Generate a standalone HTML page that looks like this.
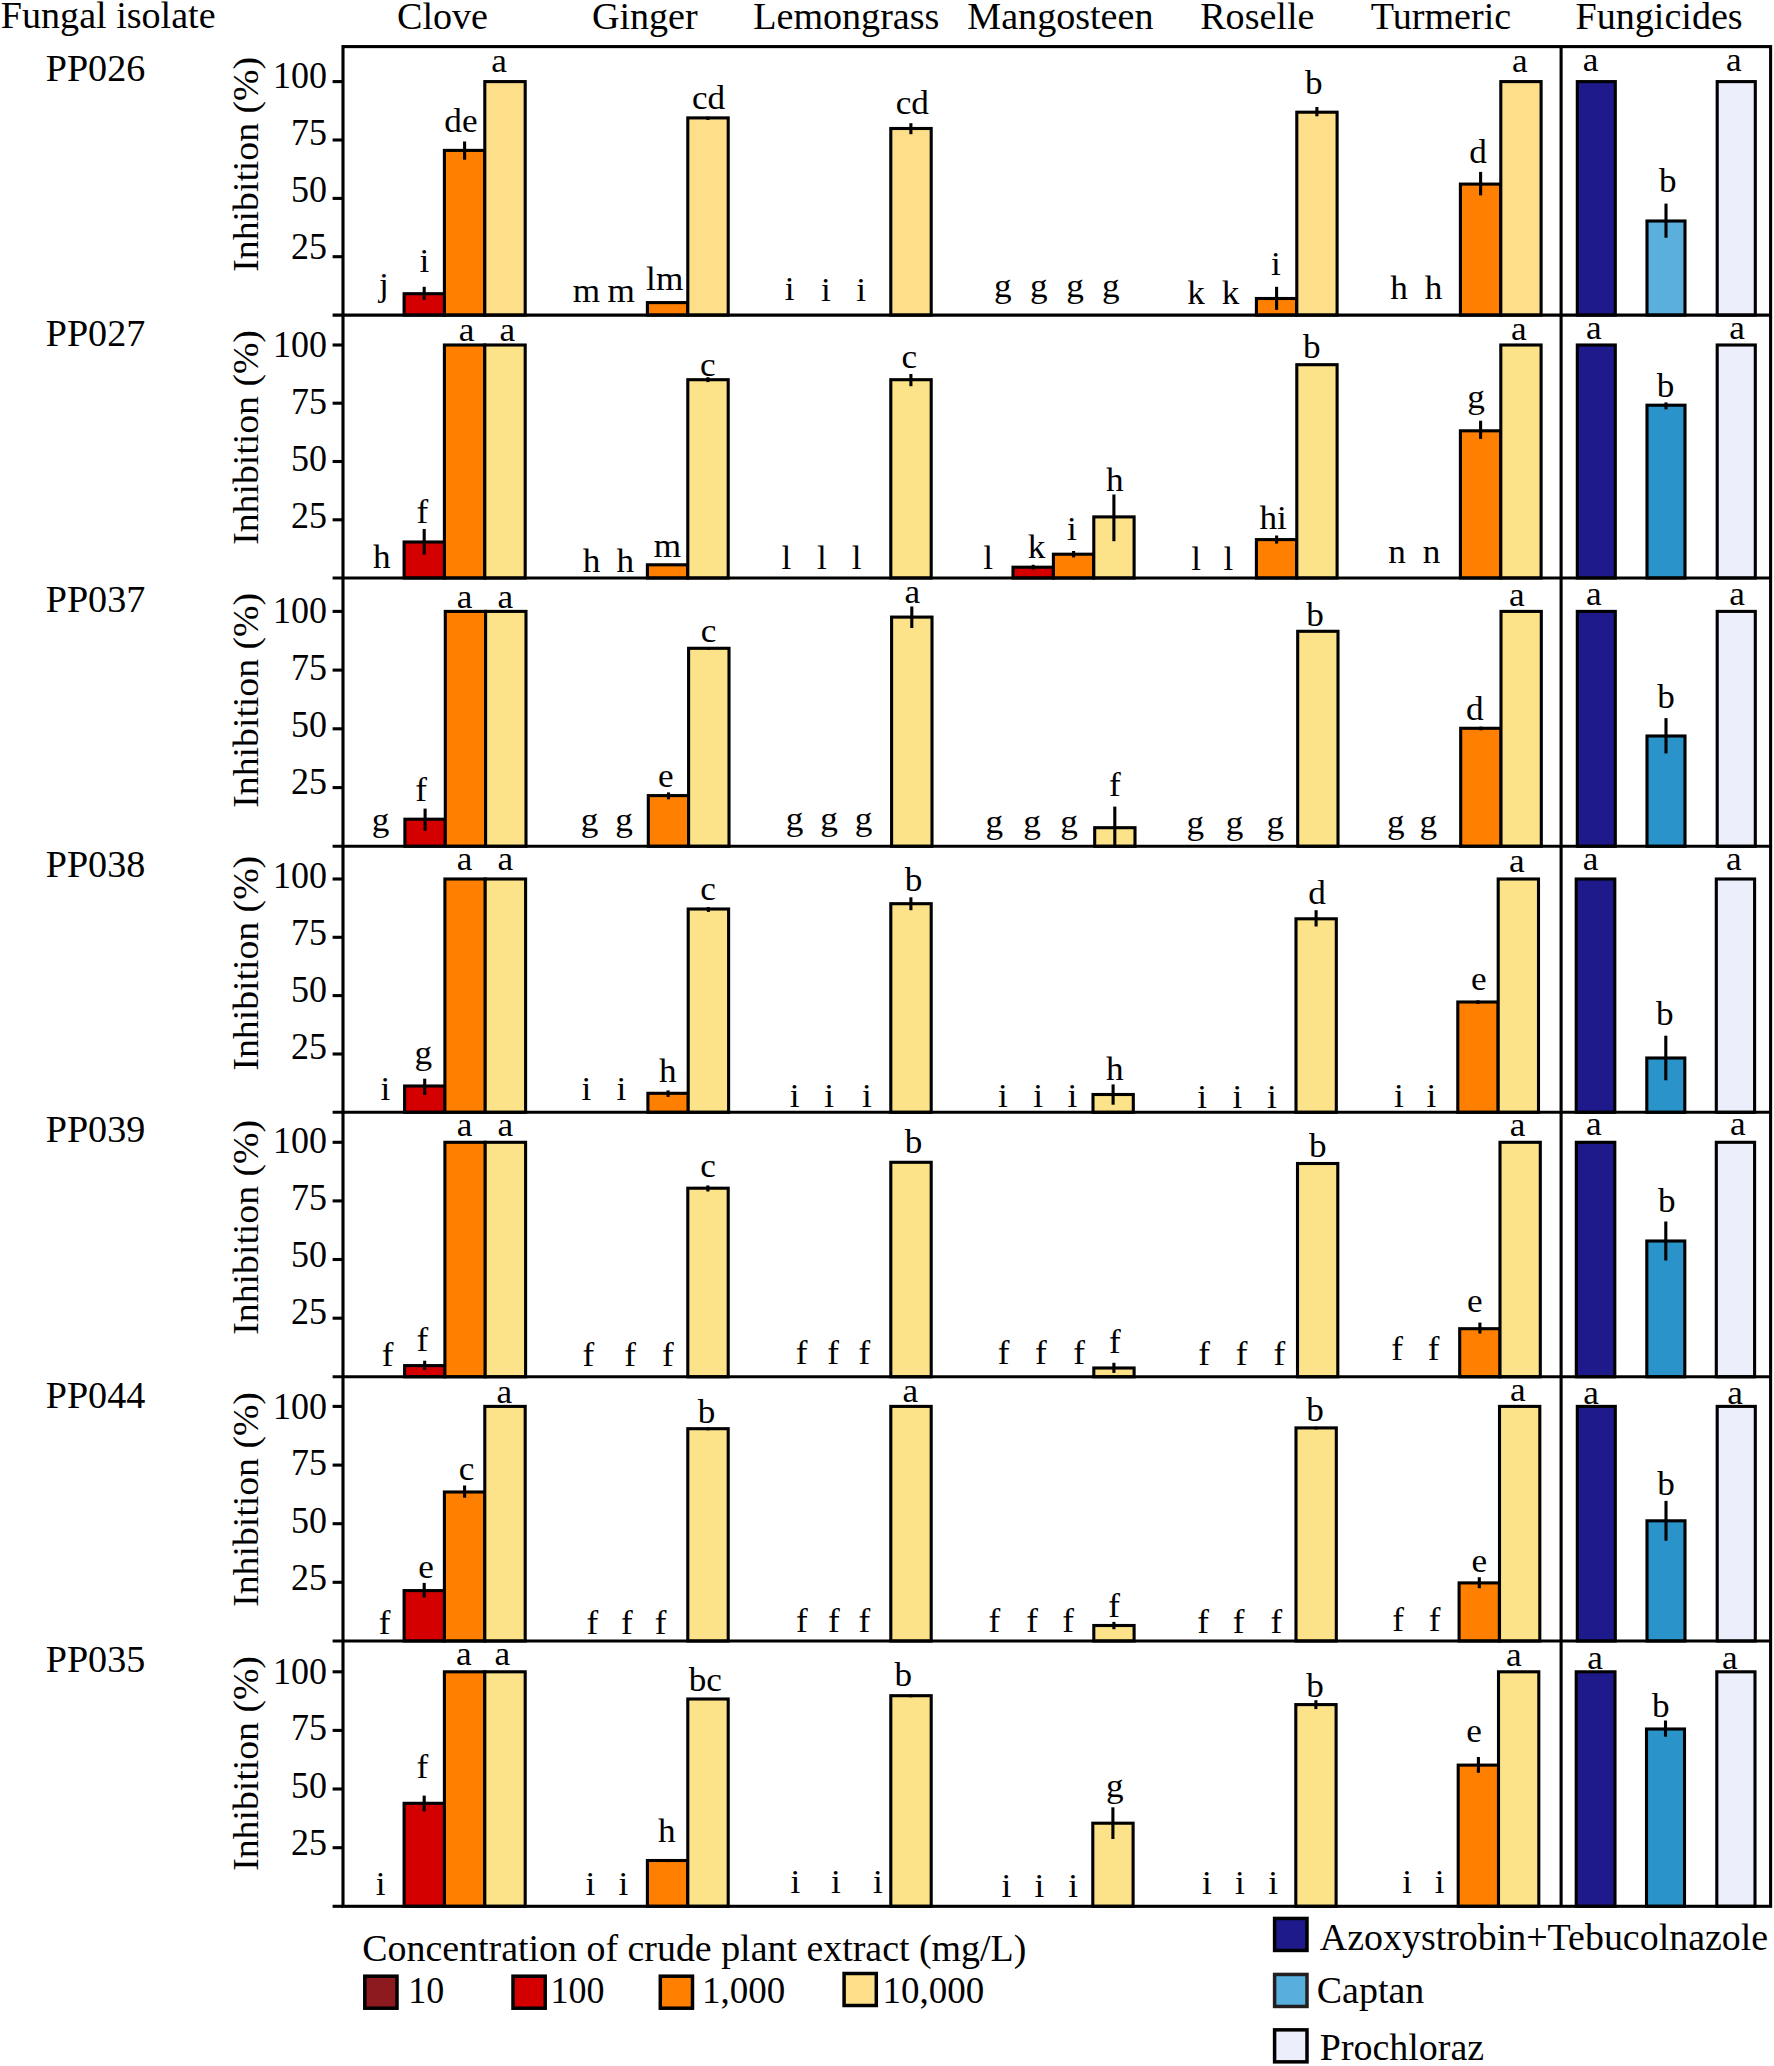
<!DOCTYPE html>
<html lang="en"><head><meta charset="utf-8"><title>Inhibition of fungal isolates by crude plant extracts</title>
<style>html,body{margin:0;padding:0;background:#fff}svg{display:block}text{font-family:"Liberation Serif", "DejaVu Serif", serif;fill:#000}.b{font-size:37.6px}.l{font-size:33.7px;text-anchor:middle}.bar{stroke:#000;stroke-width:3.1;stroke-linejoin:miter}.ln{stroke:#000;stroke-width:3.1;fill:none}</style></head><body>
<svg width="1774" height="2066" viewBox="0 0 1774 2066">
<rect width="1774" height="2066" fill="#fff"/>
<text class="b" transform="translate(108.2 27.8) scale(1.013 1)" text-anchor="middle">Fungal isolate</text>
<text class="b" transform="translate(442.5 28.6) scale(1.013 1)" text-anchor="middle">Clove</text>
<text class="b" transform="translate(644.8 28.6) scale(1.013 1)" text-anchor="middle">Ginger</text>
<text class="b" transform="translate(846.3 28.6) scale(1.013 1)" text-anchor="middle">Lemongrass</text>
<text class="b" transform="translate(1060.4 28.6) scale(1.013 1)" text-anchor="middle">Mangosteen</text>
<text class="b" transform="translate(1257.3 28.6) scale(1.013 1)" text-anchor="middle">Roselle</text>
<text class="b" transform="translate(1441.0 28.6) scale(1.013 1)" text-anchor="middle">Turmeric</text>
<text class="b" transform="translate(1659.1 28.6) scale(1.013 1)" text-anchor="middle">Fungicides</text>
<g>
<text class="b" transform="translate(95.5 80.7) scale(1.013 1)" text-anchor="middle">PP026</text>
<text class="b" style="font-size:36.0px" transform="translate(258.4 271.7) rotate(-90) scale(1.048 1)">Inhibition (%)</text>
<text class="b" transform="translate(327.0 88.1) scale(0.957 1)" text-anchor="end">100</text>
<line class="ln" x1="332.6" y1="81.6" x2="343.0" y2="81.6"/>
<text class="b" transform="translate(327.0 145.0) scale(0.957 1)" text-anchor="end">75</text>
<line class="ln" x1="332.6" y1="140.0" x2="343.0" y2="140.0"/>
<text class="b" transform="translate(327.0 202.0) scale(0.957 1)" text-anchor="end">50</text>
<line class="ln" x1="332.6" y1="198.4" x2="343.0" y2="198.4"/>
<text class="b" transform="translate(327.0 258.9) scale(0.957 1)" text-anchor="end">25</text>
<line class="ln" x1="332.6" y1="256.7" x2="343.0" y2="256.7"/>
<rect class="bar" x="404.1" y="293.7" width="40.4" height="21.4" fill="#d40000"/>
<rect class="bar" x="444.4" y="150.4" width="40.4" height="164.7" fill="#ff8000"/>
<rect class="bar" x="484.8" y="81.6" width="40.4" height="233.5" fill="#fddf89"/>
<rect class="bar" x="647.4" y="302.6" width="40.4" height="12.5" fill="#ff8000"/>
<rect class="bar" x="687.8" y="117.9" width="40.4" height="197.2" fill="#fddf89"/>
<rect class="bar" x="890.8" y="128.5" width="40.4" height="186.6" fill="#fddf89"/>
<rect class="bar" x="1256.4" y="298.5" width="40.3" height="16.6" fill="#ff8000"/>
<rect class="bar" x="1296.8" y="112.2" width="40.3" height="202.9" fill="#fddf89"/>
<rect class="bar" x="1460.4" y="184.1" width="40.3" height="131.0" fill="#ff8000"/>
<rect class="bar" x="1500.8" y="81.6" width="40.3" height="233.5" fill="#fddf89"/>
<rect class="bar" x="1577.3" y="81.6" width="38.0" height="233.5" fill="#1f1a8c"/>
<rect class="bar" x="1647.0" y="221.0" width="38.0" height="94.1" fill="#5aafdd"/>
<rect class="bar" x="1717.2" y="81.6" width="38.1" height="233.5" fill="#eceefb"/>
<line class="ln" x1="424.2" y1="286.8" x2="424.2" y2="299.8"/>
<line class="ln" x1="464.6" y1="141.5" x2="464.6" y2="159.7"/>
<line class="ln" x1="707.9" y1="116.7" x2="707.9" y2="120.0"/>
<line class="ln" x1="910.9" y1="123.2" x2="910.9" y2="134.2"/>
<line class="ln" x1="1276.6" y1="286.8" x2="1276.6" y2="309.9"/>
<line class="ln" x1="1316.9" y1="107.0" x2="1316.9" y2="116.3"/>
<line class="ln" x1="1480.6" y1="171.9" x2="1480.6" y2="195.4"/>
<line class="ln" x1="1666.0" y1="203.6" x2="1666.0" y2="237.7"/>
<text class="l" transform="translate(383.8 295.7) scale(1.045 1)">j</text>
<text class="l" transform="translate(424.4 272.2) scale(1.045 1)">i</text>
<text class="l" transform="translate(460.9 132.1) scale(1.045 1)">de</text>
<text class="l" transform="translate(499.1 71.7) scale(1.045 1)">a</text>
<text class="l" transform="translate(586.4 301.7) scale(1.045 1)">m</text>
<text class="l" transform="translate(621.3 301.7) scale(1.045 1)">m</text>
<text class="l" transform="translate(664.7 289.8) scale(1.045 1)">lm</text>
<text class="l" transform="translate(708.5 108.9) scale(1.045 1)">cd</text>
<text class="l" transform="translate(789.7 300.3) scale(1.045 1)">i</text>
<text class="l" transform="translate(825.8 300.9) scale(1.045 1)">i</text>
<text class="l" transform="translate(861.1 300.9) scale(1.045 1)">i</text>
<text class="l" transform="translate(912.3 114.2) scale(1.045 1)">cd</text>
<text class="l" transform="translate(1002.8 296.8) scale(1.045 1)">g</text>
<text class="l" transform="translate(1038.9 296.8) scale(1.045 1)">g</text>
<text class="l" transform="translate(1075.1 296.8) scale(1.045 1)">g</text>
<text class="l" transform="translate(1110.8 296.8) scale(1.045 1)">g</text>
<text class="l" transform="translate(1196.1 303.5) scale(1.045 1)">k</text>
<text class="l" transform="translate(1230.6 303.5) scale(1.045 1)">k</text>
<text class="l" transform="translate(1276.0 274.5) scale(1.045 1)">i</text>
<text class="l" transform="translate(1313.8 93.6) scale(1.045 1)">b</text>
<text class="l" transform="translate(1399.0 299.4) scale(1.045 1)">h</text>
<text class="l" transform="translate(1433.5 299.4) scale(1.045 1)">h</text>
<text class="l" transform="translate(1478.1 163.2) scale(1.045 1)">d</text>
<text class="l" transform="translate(1519.9 72.2) scale(1.045 1)">a</text>
<text class="l" transform="translate(1590.6 70.9) scale(1.045 1)">a</text>
<text class="l" transform="translate(1667.7 192.4) scale(1.045 1)">b</text>
<text class="l" transform="translate(1733.8 70.9) scale(1.045 1)">a</text>
</g>
<g>
<text class="b" transform="translate(95.5 345.8) scale(1.013 1)" text-anchor="middle">PP027</text>
<text class="b" style="font-size:36.0px" transform="translate(258.4 544.8) rotate(-90) scale(1.048 1)">Inhibition (%)</text>
<text class="b" transform="translate(327.0 357.2) scale(0.957 1)" text-anchor="end">100</text>
<line class="ln" x1="332.6" y1="345.0" x2="343.0" y2="345.0"/>
<text class="b" transform="translate(327.0 414.1) scale(0.957 1)" text-anchor="end">75</text>
<line class="ln" x1="332.6" y1="403.2" x2="343.0" y2="403.2"/>
<text class="b" transform="translate(327.0 471.0) scale(0.957 1)" text-anchor="end">50</text>
<line class="ln" x1="332.6" y1="461.5" x2="343.0" y2="461.5"/>
<text class="b" transform="translate(327.0 527.9) scale(0.957 1)" text-anchor="end">25</text>
<line class="ln" x1="332.6" y1="519.8" x2="343.0" y2="519.8"/>
<rect class="bar" x="404.1" y="542.0" width="40.4" height="36.0" fill="#d40000"/>
<rect class="bar" x="444.4" y="345.0" width="40.4" height="233.0" fill="#ff8000"/>
<rect class="bar" x="484.8" y="345.0" width="40.4" height="233.0" fill="#fce389"/>
<rect class="bar" x="647.4" y="564.8" width="40.4" height="13.2" fill="#ff8000"/>
<rect class="bar" x="687.8" y="379.7" width="40.4" height="198.3" fill="#fce389"/>
<rect class="bar" x="890.8" y="379.7" width="40.4" height="198.3" fill="#fce389"/>
<rect class="bar" x="1013.0" y="567.2" width="40.4" height="10.8" fill="#d40000"/>
<rect class="bar" x="1053.4" y="554.2" width="40.3" height="23.8" fill="#ff8000"/>
<rect class="bar" x="1093.8" y="516.9" width="40.3" height="61.1" fill="#fce389"/>
<rect class="bar" x="1256.4" y="539.6" width="40.3" height="38.4" fill="#ff8000"/>
<rect class="bar" x="1296.8" y="364.7" width="40.3" height="213.3" fill="#fce389"/>
<rect class="bar" x="1460.4" y="430.8" width="40.3" height="147.2" fill="#ff8000"/>
<rect class="bar" x="1500.8" y="345.0" width="40.3" height="233.0" fill="#fce389"/>
<rect class="bar" x="1577.3" y="345.0" width="38.0" height="233.0" fill="#1f1a8c"/>
<rect class="bar" x="1647.0" y="405.2" width="38.0" height="172.8" fill="#2a93c9"/>
<rect class="bar" x="1717.2" y="345.0" width="38.1" height="233.0" fill="#eceefb"/>
<line class="ln" x1="424.2" y1="529.0" x2="424.2" y2="554.6"/>
<line class="ln" x1="707.9" y1="377.2" x2="707.9" y2="382.1"/>
<line class="ln" x1="910.9" y1="374.0" x2="910.9" y2="386.2"/>
<line class="ln" x1="1033.2" y1="564.8" x2="1033.2" y2="569.6"/>
<line class="ln" x1="1073.6" y1="551.0" x2="1073.6" y2="557.4"/>
<line class="ln" x1="1113.9" y1="494.5" x2="1113.9" y2="541.2"/>
<line class="ln" x1="1276.6" y1="535.5" x2="1276.6" y2="543.6"/>
<line class="ln" x1="1480.6" y1="420.7" x2="1480.6" y2="438.9"/>
<line class="ln" x1="1666.0" y1="402.4" x2="1666.0" y2="409.3"/>
<text class="l" transform="translate(381.8 568.2) scale(1.045 1)">h</text>
<text class="l" transform="translate(422.4 523.2) scale(1.045 1)">f</text>
<text class="l" transform="translate(466.6 341.0) scale(1.045 1)">a</text>
<text class="l" transform="translate(507.2 341.0) scale(1.045 1)">a</text>
<text class="l" transform="translate(591.6 572.2) scale(1.045 1)">h</text>
<text class="l" transform="translate(625.3 572.2) scale(1.045 1)">h</text>
<text class="l" transform="translate(667.5 557.4) scale(1.045 1)">m</text>
<text class="l" transform="translate(707.7 375.9) scale(1.045 1)">c</text>
<text class="l" transform="translate(786.4 568.5) scale(1.045 1)">l</text>
<text class="l" transform="translate(821.8 568.8) scale(1.045 1)">l</text>
<text class="l" transform="translate(856.7 568.8) scale(1.045 1)">l</text>
<text class="l" transform="translate(909.4 368.1) scale(1.045 1)">c</text>
<text class="l" transform="translate(988.2 568.8) scale(1.045 1)">l</text>
<text class="l" transform="translate(1036.5 557.9) scale(1.045 1)">k</text>
<text class="l" transform="translate(1071.9 539.6) scale(1.045 1)">i</text>
<text class="l" transform="translate(1114.9 490.5) scale(1.045 1)">h</text>
<text class="l" transform="translate(1196.1 570.4) scale(1.045 1)">l</text>
<text class="l" transform="translate(1228.5 570.4) scale(1.045 1)">l</text>
<text class="l" transform="translate(1273.2 528.7) scale(1.045 1)">hi</text>
<text class="l" transform="translate(1311.7 358.3) scale(1.045 1)">b</text>
<text class="l" transform="translate(1397.0 563.0) scale(1.045 1)">n</text>
<text class="l" transform="translate(1431.5 563.0) scale(1.045 1)">n</text>
<text class="l" transform="translate(1476.1 407.9) scale(1.045 1)">g</text>
<text class="l" transform="translate(1518.7 339.5) scale(1.045 1)">a</text>
<text class="l" transform="translate(1593.8 338.7) scale(1.045 1)">a</text>
<text class="l" transform="translate(1665.6 396.5) scale(1.045 1)">b</text>
<text class="l" transform="translate(1737.1 338.7) scale(1.045 1)">a</text>
</g>
<g>
<text class="b" transform="translate(95.5 612.3) scale(1.013 1)" text-anchor="middle">PP037</text>
<text class="b" style="font-size:36.0px" transform="translate(258.4 807.7) rotate(-90) scale(1.048 1)">Inhibition (%)</text>
<text class="b" transform="translate(327.0 622.8) scale(0.957 1)" text-anchor="end">100</text>
<line class="ln" x1="332.6" y1="611.4" x2="343.0" y2="611.4"/>
<text class="b" transform="translate(327.0 679.7) scale(0.957 1)" text-anchor="end">75</text>
<line class="ln" x1="332.6" y1="670.1" x2="343.0" y2="670.1"/>
<text class="b" transform="translate(327.0 736.7) scale(0.957 1)" text-anchor="end">50</text>
<line class="ln" x1="332.6" y1="728.8" x2="343.0" y2="728.8"/>
<text class="b" transform="translate(327.0 793.6) scale(0.957 1)" text-anchor="end">25</text>
<line class="ln" x1="332.6" y1="787.6" x2="343.0" y2="787.6"/>
<rect class="bar" x="404.9" y="819.2" width="40.4" height="27.1" fill="#d40000"/>
<rect class="bar" x="445.3" y="611.4" width="40.4" height="234.9" fill="#ff8000"/>
<rect class="bar" x="485.6" y="611.4" width="40.4" height="234.9" fill="#fce389"/>
<rect class="bar" x="648.3" y="795.6" width="40.4" height="50.7" fill="#ff8000"/>
<rect class="bar" x="688.6" y="648.3" width="40.4" height="198.0" fill="#fce389"/>
<rect class="bar" x="891.6" y="617.1" width="40.4" height="229.2" fill="#fce389"/>
<rect class="bar" x="1094.7" y="827.7" width="40.3" height="18.6" fill="#fce389"/>
<rect class="bar" x="1297.7" y="631.3" width="40.3" height="215.0" fill="#fce389"/>
<rect class="bar" x="1460.7" y="728.3" width="40.3" height="118.0" fill="#ff8000"/>
<rect class="bar" x="1501.0" y="611.4" width="40.3" height="234.9" fill="#fce389"/>
<rect class="bar" x="1577.3" y="611.4" width="38.0" height="234.9" fill="#1f1a8c"/>
<rect class="bar" x="1647.0" y="736.0" width="38.0" height="110.3" fill="#2a93c9"/>
<rect class="bar" x="1717.2" y="611.4" width="38.1" height="234.9" fill="#eceefb"/>
<line class="ln" x1="425.1" y1="808.6" x2="425.1" y2="830.9"/>
<line class="ln" x1="668.5" y1="792.4" x2="668.5" y2="799.3"/>
<line class="ln" x1="708.8" y1="647.1" x2="708.8" y2="649.9"/>
<line class="ln" x1="911.8" y1="606.5" x2="911.8" y2="628.0"/>
<line class="ln" x1="1114.8" y1="806.6" x2="1114.8" y2="846.0"/>
<line class="ln" x1="1480.9" y1="726.6" x2="1480.9" y2="730.3"/>
<line class="ln" x1="1666.0" y1="718.1" x2="1666.0" y2="753.4"/>
<text class="l" transform="translate(380.6 831.3) scale(1.045 1)">g</text>
<text class="l" transform="translate(421.2 801.2) scale(1.045 1)">f</text>
<text class="l" transform="translate(464.6 607.7) scale(1.045 1)">a</text>
<text class="l" transform="translate(505.2 607.7) scale(1.045 1)">a</text>
<text class="l" transform="translate(589.6 831.3) scale(1.045 1)">g</text>
<text class="l" transform="translate(624.1 831.3) scale(1.045 1)">g</text>
<text class="l" transform="translate(665.9 786.7) scale(1.045 1)">e</text>
<text class="l" transform="translate(708.5 641.6) scale(1.045 1)">c</text>
<text class="l" transform="translate(794.6 830.2) scale(1.045 1)">g</text>
<text class="l" transform="translate(829.1 829.7) scale(1.045 1)">g</text>
<text class="l" transform="translate(863.6 829.7) scale(1.045 1)">g</text>
<text class="l" transform="translate(912.3 603.2) scale(1.045 1)">a</text>
<text class="l" transform="translate(994.3 832.6) scale(1.045 1)">g</text>
<text class="l" transform="translate(1032.0 832.6) scale(1.045 1)">g</text>
<text class="l" transform="translate(1069.0 832.6) scale(1.045 1)">g</text>
<text class="l" transform="translate(1114.9 795.5) scale(1.045 1)">f</text>
<text class="l" transform="translate(1195.2 833.8) scale(1.045 1)">g</text>
<text class="l" transform="translate(1234.6 833.8) scale(1.045 1)">g</text>
<text class="l" transform="translate(1275.2 833.8) scale(1.045 1)">g</text>
<text class="l" transform="translate(1315.0 625.6) scale(1.045 1)">b</text>
<text class="l" transform="translate(1395.7 833.2) scale(1.045 1)">g</text>
<text class="l" transform="translate(1428.2 833.2) scale(1.045 1)">g</text>
<text class="l" transform="translate(1474.9 719.5) scale(1.045 1)">d</text>
<text class="l" transform="translate(1516.7 605.6) scale(1.045 1)">a</text>
<text class="l" transform="translate(1593.8 605.0) scale(1.045 1)">a</text>
<text class="l" transform="translate(1666.0 707.5) scale(1.045 1)">b</text>
<text class="l" transform="translate(1737.1 605.0) scale(1.045 1)">a</text>
</g>
<g>
<text class="b" transform="translate(95.5 876.6) scale(1.013 1)" text-anchor="middle">PP038</text>
<text class="b" style="font-size:36.0px" transform="translate(258.4 1070.6) rotate(-90) scale(1.048 1)">Inhibition (%)</text>
<text class="b" transform="translate(327.0 887.9) scale(0.957 1)" text-anchor="end">100</text>
<line class="ln" x1="332.6" y1="879.0" x2="343.0" y2="879.0"/>
<text class="b" transform="translate(327.0 944.8) scale(0.957 1)" text-anchor="end">75</text>
<line class="ln" x1="332.6" y1="937.3" x2="343.0" y2="937.3"/>
<text class="b" transform="translate(327.0 1002.0) scale(0.957 1)" text-anchor="end">50</text>
<line class="ln" x1="332.6" y1="995.6" x2="343.0" y2="995.6"/>
<text class="b" transform="translate(327.0 1058.6) scale(0.957 1)" text-anchor="end">25</text>
<line class="ln" x1="332.6" y1="1054.0" x2="343.0" y2="1054.0"/>
<rect class="bar" x="404.6" y="1086.0" width="40.4" height="26.3" fill="#d40000"/>
<rect class="bar" x="444.9" y="879.0" width="40.4" height="233.3" fill="#ff8000"/>
<rect class="bar" x="485.2" y="879.0" width="40.4" height="233.3" fill="#fce389"/>
<rect class="bar" x="647.9" y="1093.3" width="40.4" height="19.0" fill="#ff8000"/>
<rect class="bar" x="688.2" y="909.0" width="40.4" height="203.3" fill="#fce389"/>
<rect class="bar" x="890.8" y="903.7" width="40.4" height="208.6" fill="#fce389"/>
<rect class="bar" x="1093.0" y="1094.5" width="40.3" height="17.8" fill="#fce389"/>
<rect class="bar" x="1296.0" y="918.8" width="40.3" height="193.5" fill="#fce389"/>
<rect class="bar" x="1457.8" y="1002.0" width="40.3" height="110.3" fill="#ff8000"/>
<rect class="bar" x="1498.2" y="879.0" width="40.3" height="233.3" fill="#fce389"/>
<rect class="bar" x="1576.2" y="879.0" width="38.6" height="233.3" fill="#1f1a8c"/>
<rect class="bar" x="1646.8" y="1058.0" width="38.0" height="54.3" fill="#2a93c9"/>
<rect class="bar" x="1716.3" y="879.0" width="38.3" height="233.3" fill="#eceefb"/>
<line class="ln" x1="424.7" y1="1078.7" x2="424.7" y2="1094.9"/>
<line class="ln" x1="668.1" y1="1090.4" x2="668.1" y2="1096.9"/>
<line class="ln" x1="708.4" y1="907.0" x2="708.4" y2="911.9"/>
<line class="ln" x1="910.9" y1="897.3" x2="910.9" y2="910.2"/>
<line class="ln" x1="1113.1" y1="1084.4" x2="1113.1" y2="1104.7"/>
<line class="ln" x1="1316.1" y1="910.2" x2="1316.1" y2="926.5"/>
<line class="ln" x1="1478.0" y1="1000.3" x2="1478.0" y2="1004.0"/>
<line class="ln" x1="1665.8" y1="1035.7" x2="1665.8" y2="1080.3"/>
<text class="l" transform="translate(385.5 1100.3) scale(1.045 1)">i</text>
<text class="l" transform="translate(423.2 1063.8) scale(1.045 1)">g</text>
<text class="l" transform="translate(464.6 869.7) scale(1.045 1)">a</text>
<text class="l" transform="translate(505.2 869.7) scale(1.045 1)">a</text>
<text class="l" transform="translate(586.4 1100.3) scale(1.045 1)">i</text>
<text class="l" transform="translate(621.3 1100.3) scale(1.045 1)">i</text>
<text class="l" transform="translate(667.9 1082.0) scale(1.045 1)">h</text>
<text class="l" transform="translate(708.1 899.7) scale(1.045 1)">c</text>
<text class="l" transform="translate(794.6 1107.1) scale(1.045 1)">i</text>
<text class="l" transform="translate(829.1 1107.1) scale(1.045 1)">i</text>
<text class="l" transform="translate(866.8 1107.1) scale(1.045 1)">i</text>
<text class="l" transform="translate(913.5 890.8) scale(1.045 1)">b</text>
<text class="l" transform="translate(1002.8 1106.7) scale(1.045 1)">i</text>
<text class="l" transform="translate(1038.1 1106.7) scale(1.045 1)">i</text>
<text class="l" transform="translate(1072.3 1106.7) scale(1.045 1)">i</text>
<text class="l" transform="translate(1114.9 1079.5) scale(1.045 1)">h</text>
<text class="l" transform="translate(1202.1 1107.9) scale(1.045 1)">i</text>
<text class="l" transform="translate(1237.4 1107.9) scale(1.045 1)">i</text>
<text class="l" transform="translate(1271.9 1107.9) scale(1.045 1)">i</text>
<text class="l" transform="translate(1317.0 903.5) scale(1.045 1)">d</text>
<text class="l" transform="translate(1399.0 1107.0) scale(1.045 1)">i</text>
<text class="l" transform="translate(1431.5 1107.0) scale(1.045 1)">i</text>
<text class="l" transform="translate(1478.9 989.6) scale(1.045 1)">e</text>
<text class="l" transform="translate(1516.7 871.9) scale(1.045 1)">a</text>
<text class="l" transform="translate(1590.6 870.2) scale(1.045 1)">a</text>
<text class="l" transform="translate(1664.8 1025.3) scale(1.045 1)">b</text>
<text class="l" transform="translate(1733.8 870.2) scale(1.045 1)">a</text>
</g>
<g>
<text class="b" transform="translate(95.5 1142.3) scale(1.013 1)" text-anchor="middle">PP039</text>
<text class="b" style="font-size:36.0px" transform="translate(258.4 1334.7) rotate(-90) scale(1.048 1)">Inhibition (%)</text>
<text class="b" transform="translate(327.0 1153.4) scale(0.957 1)" text-anchor="end">100</text>
<line class="ln" x1="332.6" y1="1142.3" x2="343.0" y2="1142.3"/>
<text class="b" transform="translate(327.0 1210.3) scale(0.957 1)" text-anchor="end">75</text>
<line class="ln" x1="332.6" y1="1200.9" x2="343.0" y2="1200.9"/>
<text class="b" transform="translate(327.0 1267.4) scale(0.957 1)" text-anchor="end">50</text>
<line class="ln" x1="332.6" y1="1259.5" x2="343.0" y2="1259.5"/>
<text class="b" transform="translate(327.0 1324.3) scale(0.957 1)" text-anchor="end">25</text>
<line class="ln" x1="332.6" y1="1318.2" x2="343.0" y2="1318.2"/>
<rect class="bar" x="404.6" y="1365.6" width="40.4" height="11.2" fill="#d40000"/>
<rect class="bar" x="444.9" y="1142.3" width="40.4" height="234.5" fill="#ff8000"/>
<rect class="bar" x="485.2" y="1142.3" width="40.4" height="234.5" fill="#fce389"/>
<rect class="bar" x="687.8" y="1188.2" width="40.4" height="188.6" fill="#fce389"/>
<rect class="bar" x="890.8" y="1162.3" width="40.4" height="214.5" fill="#fce389"/>
<rect class="bar" x="1093.8" y="1368.0" width="40.3" height="8.8" fill="#fce389"/>
<rect class="bar" x="1297.5" y="1163.5" width="40.3" height="213.3" fill="#fce389"/>
<rect class="bar" x="1459.7" y="1328.7" width="40.3" height="48.1" fill="#ff8000"/>
<rect class="bar" x="1500.0" y="1142.3" width="40.3" height="234.5" fill="#fce389"/>
<rect class="bar" x="1576.3" y="1142.3" width="38.5" height="234.5" fill="#1f1a8c"/>
<rect class="bar" x="1646.8" y="1241.0" width="38.0" height="135.8" fill="#2a93c9"/>
<rect class="bar" x="1716.3" y="1142.3" width="38.3" height="234.5" fill="#eceefb"/>
<line class="ln" x1="424.7" y1="1360.7" x2="424.7" y2="1369.7"/>
<line class="ln" x1="707.9" y1="1185.4" x2="707.9" y2="1191.5"/>
<line class="ln" x1="1113.9" y1="1362.8" x2="1113.9" y2="1372.9"/>
<line class="ln" x1="1479.9" y1="1322.6" x2="1479.9" y2="1333.5"/>
<line class="ln" x1="1665.8" y1="1221.5" x2="1665.8" y2="1260.5"/>
<text class="l" transform="translate(387.5 1365.9) scale(1.045 1)">f</text>
<text class="l" transform="translate(422.4 1351.3) scale(1.045 1)">f</text>
<text class="l" transform="translate(464.6 1135.5) scale(1.045 1)">a</text>
<text class="l" transform="translate(505.2 1135.5) scale(1.045 1)">a</text>
<text class="l" transform="translate(588.4 1365.9) scale(1.045 1)">f</text>
<text class="l" transform="translate(630.2 1365.9) scale(1.045 1)">f</text>
<text class="l" transform="translate(667.9 1365.9) scale(1.045 1)">f</text>
<text class="l" transform="translate(708.1 1177.2) scale(1.045 1)">c</text>
<text class="l" transform="translate(801.5 1364.4) scale(1.045 1)">f</text>
<text class="l" transform="translate(833.1 1364.4) scale(1.045 1)">f</text>
<text class="l" transform="translate(864.4 1364.4) scale(1.045 1)">f</text>
<text class="l" transform="translate(913.5 1152.5) scale(1.045 1)">b</text>
<text class="l" transform="translate(1003.6 1364.2) scale(1.045 1)">f</text>
<text class="l" transform="translate(1040.9 1364.2) scale(1.045 1)">f</text>
<text class="l" transform="translate(1079.2 1364.2) scale(1.045 1)">f</text>
<text class="l" transform="translate(1114.9 1353.3) scale(1.045 1)">f</text>
<text class="l" transform="translate(1204.2 1365.0) scale(1.045 1)">f</text>
<text class="l" transform="translate(1241.5 1365.0) scale(1.045 1)">f</text>
<text class="l" transform="translate(1279.3 1365.0) scale(1.045 1)">f</text>
<text class="l" transform="translate(1317.8 1157.2) scale(1.045 1)">b</text>
<text class="l" transform="translate(1397.0 1360.0) scale(1.045 1)">f</text>
<text class="l" transform="translate(1433.5 1360.0) scale(1.045 1)">f</text>
<text class="l" transform="translate(1474.9 1311.9) scale(1.045 1)">e</text>
<text class="l" transform="translate(1517.5 1136.3) scale(1.045 1)">a</text>
<text class="l" transform="translate(1593.8 1135.2) scale(1.045 1)">a</text>
<text class="l" transform="translate(1666.9 1211.7) scale(1.045 1)">b</text>
<text class="l" transform="translate(1737.9 1135.2) scale(1.045 1)">a</text>
</g>
<g>
<text class="b" transform="translate(95.5 1407.7) scale(1.013 1)" text-anchor="middle">PP044</text>
<text class="b" style="font-size:36.0px" transform="translate(258.4 1606.8) rotate(-90) scale(1.048 1)">Inhibition (%)</text>
<text class="b" transform="translate(327.0 1418.5) scale(0.957 1)" text-anchor="end">100</text>
<line class="ln" x1="332.6" y1="1406.4" x2="343.0" y2="1406.4"/>
<text class="b" transform="translate(327.0 1475.4) scale(0.957 1)" text-anchor="end">75</text>
<line class="ln" x1="332.6" y1="1465.1" x2="343.0" y2="1465.1"/>
<text class="b" transform="translate(327.0 1532.6) scale(0.957 1)" text-anchor="end">50</text>
<line class="ln" x1="332.6" y1="1523.7" x2="343.0" y2="1523.7"/>
<text class="b" transform="translate(327.0 1589.5) scale(0.957 1)" text-anchor="end">25</text>
<line class="ln" x1="332.6" y1="1582.3" x2="343.0" y2="1582.3"/>
<rect class="bar" x="404.1" y="1590.6" width="40.4" height="50.4" fill="#d40000"/>
<rect class="bar" x="444.4" y="1492.0" width="40.4" height="149.0" fill="#ff8000"/>
<rect class="bar" x="484.8" y="1406.4" width="40.4" height="234.6" fill="#fce389"/>
<rect class="bar" x="687.8" y="1428.7" width="40.4" height="212.3" fill="#fce389"/>
<rect class="bar" x="890.8" y="1406.4" width="40.4" height="234.6" fill="#fce389"/>
<rect class="bar" x="1093.8" y="1625.5" width="40.3" height="15.5" fill="#fce389"/>
<rect class="bar" x="1296.0" y="1427.9" width="40.3" height="213.1" fill="#fce389"/>
<rect class="bar" x="1459.1" y="1582.9" width="40.3" height="58.1" fill="#ff8000"/>
<rect class="bar" x="1499.5" y="1406.4" width="40.3" height="234.6" fill="#fce389"/>
<rect class="bar" x="1577.3" y="1406.4" width="38.0" height="234.6" fill="#1f1a8c"/>
<rect class="bar" x="1647.0" y="1520.8" width="38.0" height="120.2" fill="#2a93c9"/>
<rect class="bar" x="1717.2" y="1406.4" width="38.1" height="234.6" fill="#eceefb"/>
<line class="ln" x1="424.2" y1="1582.9" x2="424.2" y2="1597.5"/>
<line class="ln" x1="464.6" y1="1485.5" x2="464.6" y2="1497.7"/>
<line class="ln" x1="707.9" y1="1427.5" x2="707.9" y2="1430.3"/>
<line class="ln" x1="1113.9" y1="1621.9" x2="1113.9" y2="1629.2"/>
<line class="ln" x1="1316.1" y1="1426.7" x2="1316.1" y2="1429.5"/>
<line class="ln" x1="1479.3" y1="1577.2" x2="1479.3" y2="1588.2"/>
<line class="ln" x1="1666.0" y1="1500.9" x2="1666.0" y2="1540.7"/>
<text class="l" transform="translate(384.6 1634.2) scale(1.045 1)">f</text>
<text class="l" transform="translate(426.0 1577.9) scale(1.045 1)">e</text>
<text class="l" transform="translate(466.6 1479.6) scale(1.045 1)">c</text>
<text class="l" transform="translate(504.4 1403.2) scale(1.045 1)">a</text>
<text class="l" transform="translate(592.4 1634.2) scale(1.045 1)">f</text>
<text class="l" transform="translate(626.9 1634.2) scale(1.045 1)">f</text>
<text class="l" transform="translate(660.6 1634.2) scale(1.045 1)">f</text>
<text class="l" transform="translate(706.5 1422.6) scale(1.045 1)">b</text>
<text class="l" transform="translate(801.9 1631.6) scale(1.045 1)">f</text>
<text class="l" transform="translate(833.9 1632.4) scale(1.045 1)">f</text>
<text class="l" transform="translate(864.4 1632.4) scale(1.045 1)">f</text>
<text class="l" transform="translate(910.2 1402.0) scale(1.045 1)">a</text>
<text class="l" transform="translate(994.3 1632.4) scale(1.045 1)">f</text>
<text class="l" transform="translate(1032.0 1632.4) scale(1.045 1)">f</text>
<text class="l" transform="translate(1068.2 1632.4) scale(1.045 1)">f</text>
<text class="l" transform="translate(1114.1 1617.3) scale(1.045 1)">f</text>
<text class="l" transform="translate(1203.0 1633.0) scale(1.045 1)">f</text>
<text class="l" transform="translate(1238.7 1633.0) scale(1.045 1)">f</text>
<text class="l" transform="translate(1276.4 1633.0) scale(1.045 1)">f</text>
<text class="l" transform="translate(1315.0 1420.6) scale(1.045 1)">b</text>
<text class="l" transform="translate(1398.2 1631.4) scale(1.045 1)">f</text>
<text class="l" transform="translate(1434.7 1631.4) scale(1.045 1)">f</text>
<text class="l" transform="translate(1479.3 1571.5) scale(1.045 1)">e</text>
<text class="l" transform="translate(1517.9 1401.0) scale(1.045 1)">a</text>
<text class="l" transform="translate(1591.0 1404.0) scale(1.045 1)">a</text>
<text class="l" transform="translate(1666.0 1495.4) scale(1.045 1)">b</text>
<text class="l" transform="translate(1735.0 1404.0) scale(1.045 1)">a</text>
</g>
<g>
<text class="b" transform="translate(95.5 1672.4) scale(1.013 1)" text-anchor="middle">PP035</text>
<text class="b" style="font-size:36.0px" transform="translate(258.4 1870.8) rotate(-90) scale(1.048 1)">Inhibition (%)</text>
<text class="b" transform="translate(327.0 1683.5) scale(0.957 1)" text-anchor="end">100</text>
<line class="ln" x1="332.6" y1="1671.8" x2="343.0" y2="1671.8"/>
<text class="b" transform="translate(327.0 1740.4) scale(0.957 1)" text-anchor="end">75</text>
<line class="ln" x1="332.6" y1="1730.4" x2="343.0" y2="1730.4"/>
<text class="b" transform="translate(327.0 1797.6) scale(0.957 1)" text-anchor="end">50</text>
<line class="ln" x1="332.6" y1="1789.0" x2="343.0" y2="1789.0"/>
<text class="b" transform="translate(327.0 1854.5) scale(0.957 1)" text-anchor="end">25</text>
<line class="ln" x1="332.6" y1="1847.7" x2="343.0" y2="1847.7"/>
<rect class="bar" x="404.1" y="1803.3" width="40.4" height="103.0" fill="#d40000"/>
<rect class="bar" x="444.4" y="1671.8" width="40.4" height="234.5" fill="#ff8000"/>
<rect class="bar" x="484.8" y="1671.8" width="40.4" height="234.5" fill="#fce389"/>
<rect class="bar" x="647.4" y="1860.5" width="40.4" height="45.8" fill="#ff8000"/>
<rect class="bar" x="687.8" y="1699.0" width="40.4" height="207.3" fill="#fce389"/>
<rect class="bar" x="890.8" y="1695.7" width="40.4" height="210.6" fill="#fce389"/>
<rect class="bar" x="1092.8" y="1823.2" width="40.3" height="83.1" fill="#fce389"/>
<rect class="bar" x="1295.8" y="1704.6" width="40.3" height="201.7" fill="#fce389"/>
<rect class="bar" x="1458.2" y="1765.1" width="40.3" height="141.2" fill="#ff8000"/>
<rect class="bar" x="1498.5" y="1671.8" width="40.3" height="234.5" fill="#fce389"/>
<rect class="bar" x="1576.2" y="1671.8" width="38.8" height="234.5" fill="#1f1a8c"/>
<rect class="bar" x="1646.5" y="1729.0" width="38.0" height="177.3" fill="#2a93c9"/>
<rect class="bar" x="1716.8" y="1671.8" width="38.2" height="234.5" fill="#eceefb"/>
<line class="ln" x1="424.2" y1="1795.6" x2="424.2" y2="1811.4"/>
<line class="ln" x1="667.6" y1="1859.3" x2="667.6" y2="1862.1"/>
<line class="ln" x1="910.9" y1="1694.5" x2="910.9" y2="1697.3"/>
<line class="ln" x1="1112.9" y1="1807.3" x2="1112.9" y2="1839.0"/>
<line class="ln" x1="1315.9" y1="1700.2" x2="1315.9" y2="1709.1"/>
<line class="ln" x1="1478.4" y1="1757.0" x2="1478.4" y2="1772.8"/>
<line class="ln" x1="1665.5" y1="1720.5" x2="1665.5" y2="1736.7"/>
<text class="l" transform="translate(380.6 1895.0) scale(1.045 1)">i</text>
<text class="l" transform="translate(422.4 1778.1) scale(1.045 1)">f</text>
<text class="l" transform="translate(463.8 1664.5) scale(1.045 1)">a</text>
<text class="l" transform="translate(502.3 1664.5) scale(1.045 1)">a</text>
<text class="l" transform="translate(590.4 1895.0) scale(1.045 1)">i</text>
<text class="l" transform="translate(623.3 1895.0) scale(1.045 1)">i</text>
<text class="l" transform="translate(666.7 1841.8) scale(1.045 1)">h</text>
<text class="l" transform="translate(705.3 1690.9) scale(1.045 1)">bc</text>
<text class="l" transform="translate(795.4 1893.0) scale(1.045 1)">i</text>
<text class="l" transform="translate(836.0 1893.0) scale(1.045 1)">i</text>
<text class="l" transform="translate(877.8 1893.0) scale(1.045 1)">i</text>
<text class="l" transform="translate(903.3 1686.0) scale(1.045 1)">b</text>
<text class="l" transform="translate(1006.4 1896.6) scale(1.045 1)">i</text>
<text class="l" transform="translate(1039.3 1896.6) scale(1.045 1)">i</text>
<text class="l" transform="translate(1073.1 1896.6) scale(1.045 1)">i</text>
<text class="l" transform="translate(1114.9 1796.7) scale(1.045 1)">g</text>
<text class="l" transform="translate(1207.0 1894.2) scale(1.045 1)">i</text>
<text class="l" transform="translate(1239.9 1894.2) scale(1.045 1)">i</text>
<text class="l" transform="translate(1273.2 1894.2) scale(1.045 1)">i</text>
<text class="l" transform="translate(1315.0 1697.3) scale(1.045 1)">b</text>
<text class="l" transform="translate(1407.1 1892.6) scale(1.045 1)">i</text>
<text class="l" transform="translate(1439.6 1892.6) scale(1.045 1)">i</text>
<text class="l" transform="translate(1474.1 1741.6) scale(1.045 1)">e</text>
<text class="l" transform="translate(1513.8 1665.7) scale(1.045 1)">a</text>
<text class="l" transform="translate(1595.0 1668.5) scale(1.045 1)">a</text>
<text class="l" transform="translate(1660.8 1717.2) scale(1.045 1)">b</text>
<text class="l" transform="translate(1729.8 1668.5) scale(1.045 1)">a</text>
</g>
<line class="ln" x1="332.6" y1="315.1" x2="1770.6" y2="315.1"/>
<line class="ln" x1="332.6" y1="578.0" x2="1770.6" y2="578.0"/>
<line class="ln" x1="332.6" y1="846.3" x2="1770.6" y2="846.3"/>
<line class="ln" x1="332.6" y1="1112.3" x2="1770.6" y2="1112.3"/>
<line class="ln" x1="332.6" y1="1376.8" x2="1770.6" y2="1376.8"/>
<line class="ln" x1="332.6" y1="1641.0" x2="1770.6" y2="1641.0"/>
<line class="ln" x1="332.6" y1="1906.3" x2="343.0" y2="1906.3"/>
<rect class="ln" x="343.0" y="46.6" width="1427.6" height="1859.7"/>
<line class="ln" x1="1561.1" y1="46.6" x2="1561.1" y2="1906.3"/>
<text class="b" transform="translate(362.3 1960.9) scale(1.008 1)" text-anchor="start">Concentration of crude plant extract (mg/L)</text>
<rect class="bar" x="364.8" y="1976.2" width="32.2" height="32.0" fill="#8c1a1f" style="stroke-width:3.5"/>
<text class="b" transform="translate(408.3 2002.7) scale(0.957 1)" text-anchor="start">10</text>
<rect class="bar" x="513.0" y="1976.2" width="32.2" height="32.0" fill="#d40000" style="stroke-width:3.5"/>
<text class="b" transform="translate(550.5 2002.7) scale(0.957 1)" text-anchor="start">100</text>
<rect class="bar" x="660.3" y="1976.2" width="32.2" height="32.0" fill="#ff8000" style="stroke-width:3.5"/>
<text class="b" transform="translate(702.0 2002.7) scale(0.985 1)" text-anchor="start">1,000</text>
<rect class="bar" x="844.1" y="1973.5" width="32.2" height="32.0" fill="#fee08b" style="stroke-width:3.5"/>
<text class="b" transform="translate(882.5 2002.7) scale(0.985 1)" text-anchor="start">10,000</text>
<rect class="bar" x="1274.6" y="1918.45" width="32.4" height="32.0" fill="#1f1a8c" style="stroke:#000;stroke-width:3.5"/>
<text class="b" transform="translate(1319.8 1950.0) scale(1.009 1)" text-anchor="start">Azoxystrobin+Tebucolnazole</text>
<rect class="bar" x="1274.6" y="1974.45" width="32.4" height="32.0" fill="#58aedc" style="stroke:#231f20;stroke-width:3.5"/>
<text class="b" transform="translate(1316.8 2003.1) scale(1.009 1)" text-anchor="start">Captan</text>
<rect class="bar" x="1274.6" y="2029.85" width="32.4" height="32.0" fill="#eceefb" style="stroke:#000;stroke-width:3.5"/>
<text class="b" transform="translate(1319.8 2059.5) scale(1.009 1)" text-anchor="start">Prochloraz</text>
</svg></body></html>
